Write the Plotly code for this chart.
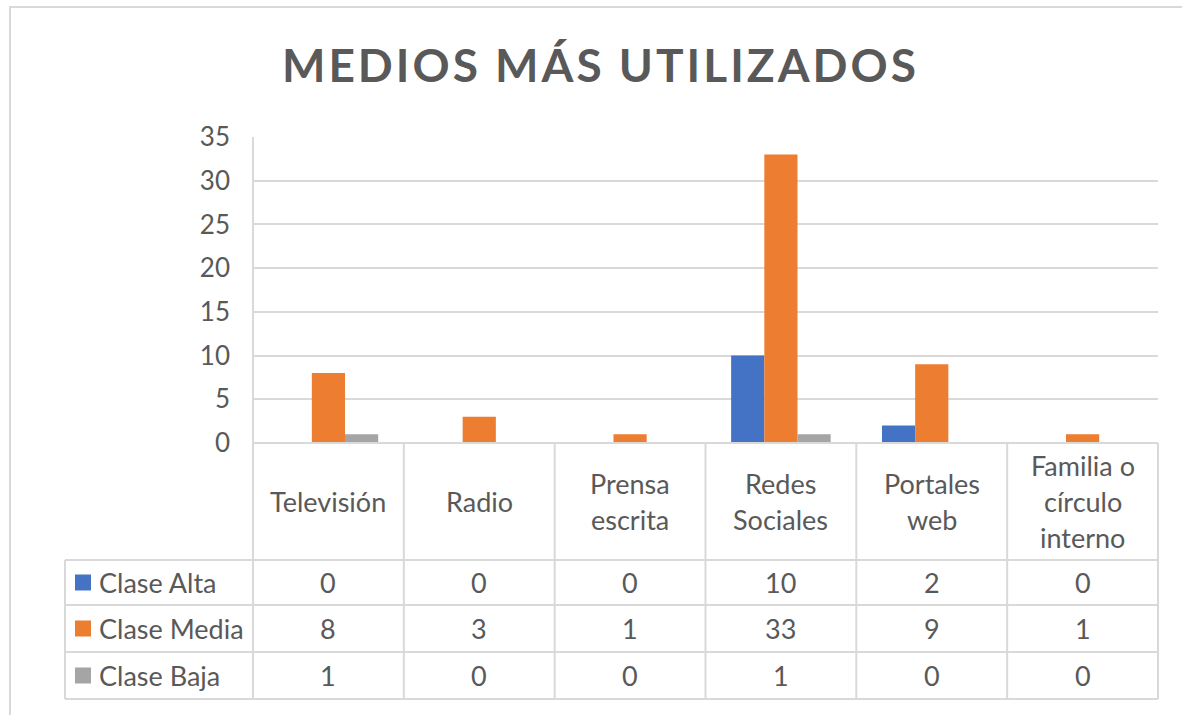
import plotly.graph_objects as go

categories = ["Televisión", "Radio", "Prensa escrita", "Redes Sociales", "Portales web", "Familia o círculo interno"]
header_lines = [["Televisión"], ["Radio"], ["Prensa", "escrita"], ["Redes", "Sociales"], ["Portales", "web"], ["Familia o", "círculo", "interno"]]
series_names = ["Clase Alta", "Clase Media", "Clase Baja"]
clase_alta = [0, 0, 0, 10, 2, 0]
clase_media = [8, 3, 1, 33, 9, 1]
clase_baja = [1, 0, 0, 1, 0, 0]
y_ticks = [0, 5, 10, 15, 20, 25, 30, 35]
title_text = "MEDIOS MÁS UTILIZADOS"

colors = ["#4472C4", "#ED7D31", "#A5A5A5"]
series_values = [clase_alta, clase_media, clase_baja]
FONT = "Lato"
TXT = "#595959"
LINE = "#D9D9D9"
TS = 27

W, H = 1182, 715
L, R, T, B = 253, 1158, 137, 443
pw, ph = R - L, B - T


def px_x(x):
    return (x - L) / pw


def px_y(y):
    return (B - y) / ph


n = len(categories)
xs = list(range(n))

fig = go.Figure()
for name, vals, col in zip(series_names, series_values, colors):
    fig.add_trace(go.Bar(x=xs, y=vals, name=name, marker=dict(color=col, line=dict(width=0))))

shapes = []
annotations = []

# outer chart border
shapes.append(dict(type="rect", xref="paper", yref="paper", x0=px_x(10), x1=px_x(1195), y0=px_y(730), y1=px_y(7),
                   line=dict(color=LINE, width=2), fillcolor="rgba(0,0,0,0)", layer="below"))

# table lines
row_edges = [B, 560, 605, 652, 699]
for i, yy in enumerate(row_edges):
    x0 = L if i == 0 else 65
    shapes.append(dict(type="line", xref="paper", yref="paper", x0=px_x(x0), x1=px_x(R), y0=px_y(yy), y1=px_y(yy),
                       line=dict(color=LINE, width=2)))
col_w = pw / n
shapes.append(dict(type="line", xref="paper", yref="paper", x0=0, x1=0, y0=1, y1=px_y(699), line=dict(color=LINE, width=2)))
for k in range(1, n + 1):
    xx = L + k * col_w
    shapes.append(dict(type="line", xref="paper", yref="paper", x0=px_x(xx), x1=px_x(xx), y0=px_y(B), y1=px_y(699),
                       line=dict(color=LINE, width=2)))
shapes.append(dict(type="line", xref="paper", yref="paper", x0=px_x(65), x1=px_x(65), y0=px_y(560), y1=px_y(699),
                   line=dict(color=LINE, width=2)))

# header labels
hdr_c = (B + 560) / 2
for k, lines in enumerate(header_lines):
    cx = L + (k + 0.5) * col_w
    m = len(lines)
    for j, t in enumerate(lines):
        yy = hdr_c + (j - (m - 1) / 2) * 36
        annotations.append(dict(text=t, xref="paper", yref="paper", x=px_x(cx), y=px_y(yy), showarrow=False,
                                xanchor="center", yanchor="middle", font=dict(family=FONT, size=TS, color=TXT)))

# data rows
for r, (name, vals, col) in enumerate(zip(series_names, series_values, colors)):
    yc = (row_edges[r + 1] + row_edges[r + 2]) / 2
    shapes.append(dict(type="rect", xref="paper", yref="paper", x0=px_x(75), x1=px_x(91), y0=px_y(yc + 8), y1=px_y(yc - 8),
                       fillcolor=col, line=dict(width=0)))
    annotations.append(dict(text=name, xref="paper", yref="paper", x=px_x(97), y=px_y(yc), showarrow=False,
                            xanchor="left", yanchor="middle", font=dict(family=FONT, size=TS, color=TXT)))
    for k, v in enumerate(vals):
        cx = L + (k + 0.5) * col_w
        annotations.append(dict(text=str(v), xref="paper", yref="paper", x=px_x(cx), y=px_y(yc), showarrow=False,
                                xanchor="center", yanchor="middle", font=dict(family=FONT, size=TS, color=TXT)))

fig.update_layout(
    width=W, height=H,
    margin=dict(l=L, r=W - R, t=T, b=H - B, pad=0),
    paper_bgcolor="white", plot_bgcolor="white",
    showlegend=False,
    barmode="group", bargap=0.34, bargroupgap=0,
    title=dict(text=title_text, x=0.508, xanchor="center", y=(H - 66) / H, yanchor="middle", yref="container",
               font=dict(family=FONT, size=46, color=TXT, weight="bold")),
    xaxis=dict(range=[-0.5, n - 0.5], showticklabels=False, showgrid=False, zeroline=False, showline=False, ticks=""),
    yaxis=dict(range=[0, 35], tickvals=y_ticks, showgrid=True, gridcolor=LINE, gridwidth=2, zeroline=True,
               zerolinecolor=LINE, zerolinewidth=2, showline=False, ticks="", ticklabelstandoff=22,
               tickfont=dict(family=FONT, size=26, color=TXT)),
    shapes=shapes, annotations=annotations,
)

post = ("document.body.style.margin='0';document.body.style.overflow='hidden';"
        "document.querySelectorAll('.gtitle').forEach(function(e){e.style.letterSpacing='3px';});")
fig.write_html("out.html", post_script=post, config={"displayModeBar": False})
